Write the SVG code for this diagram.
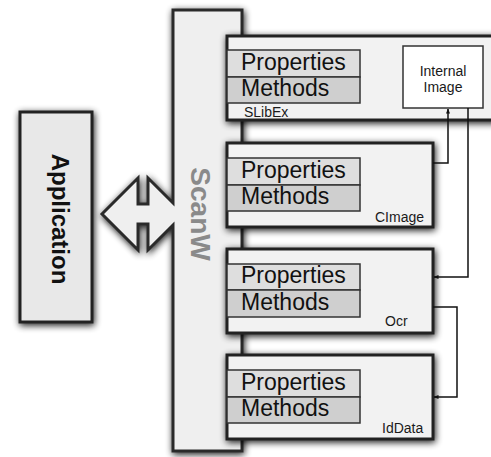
<svg xmlns="http://www.w3.org/2000/svg" width="491" height="457" viewBox="0 0 491 457">
<defs>
<filter id="sh" x="-20%" y="-20%" width="140%" height="140%">
<feGaussianBlur in="SourceAlpha" stdDeviation="3.5"/>
<feOffset dx="1" dy="2" result="b"/>
<feComponentTransfer><feFuncA type="linear" slope="0.9"/></feComponentTransfer>
<feMerge><feMergeNode/><feMergeNode in="SourceGraphic"/></feMerge>
</filter>
<marker id="ah" viewBox="0 0 10 10" refX="9" refY="5" markerWidth="5" markerHeight="5" orient="auto" markerUnits="userSpaceOnUse">
<path d="M0,1 L10,5 L0,9 Z" fill="#111"/>
</marker>
</defs>
<style>
.box{fill:#f2f2f2;stroke:#222;stroke-width:3}
.prop{fill:#dedede;stroke:#333;stroke-width:1.5}
.meth{fill:#cfcfcf;stroke:#333;stroke-width:1.5}
.big{font-family:"Liberation Sans",Arial,sans-serif;font-size:23px;fill:#111}
.lbl{font-family:"Liberation Sans",Arial,sans-serif;font-size:14px;fill:#1a1a1a}
.conn{fill:none;stroke:#111;stroke-width:1.5}
</style>
<rect width="491" height="457" fill="#fff"/>
<g id="application">
<rect x="20" y="112" width="72" height="210" fill="#e8e8e8" stroke="#222" stroke-width="3" filter="url(#sh)"/>
<text transform="translate(52,219) rotate(90)" text-anchor="middle" font-family="Liberation Sans,Arial,sans-serif" font-size="24" font-weight="bold" fill="#111">Application</text>
</g>
<g id="scanw">
<path d="M173,10 H242 V451 H173 V225 L148,250 V224 H138 V250 L102,214 L138,178 V204 H148 V178 L173,203 Z" fill="#efefef" stroke="#2a2a2a" stroke-width="3" stroke-linejoin="miter" filter="url(#sh)"/>
<text transform="translate(191,214) rotate(90)" text-anchor="middle" font-family="Liberation Sans,Arial,sans-serif" font-size="28" font-weight="bold" fill="#8a8a8a">ScanW</text>
</g>
<g id="slibex">
<rect class="box" x="227" y="36" width="280" height="84" filter="url(#sh)"/>
<rect class="prop" x="227" y="50" width="133" height="27"/>
<rect class="meth" x="227" y="77" width="133" height="26"/>
<text class="big" x="241" y="70">Properties</text>
<text class="big" x="241" y="96">Methods</text>
<text class="lbl" x="244" y="117">SLibEx</text>
<rect x="403" y="46" width="80" height="62" fill="#fff" stroke="#333" stroke-width="1.5"/>
<text class="lbl" x="443" y="76" text-anchor="middle">Internal</text>
<text class="lbl" x="443" y="92" text-anchor="middle">Image</text>
</g>
<g id="cimage">
<rect class="box" x="227" y="143" width="206" height="84" filter="url(#sh)"/>
<rect class="prop" x="227" y="158" width="133" height="27"/>
<rect class="meth" x="227" y="185" width="133" height="26"/>
<text class="big" x="241" y="178">Properties</text>
<text class="big" x="241" y="204">Methods</text>
<text class="lbl" x="375" y="222">CImage</text>
</g>
<g id="ocr">
<rect class="box" x="227" y="249" width="206" height="84" filter="url(#sh)"/>
<rect class="prop" x="227" y="264" width="133" height="26"/>
<rect class="meth" x="227" y="290" width="133" height="27"/>
<text class="big" x="241" y="283">Properties</text>
<text class="big" x="241" y="310">Methods</text>
<text class="lbl" x="385" y="326">Ocr</text>
</g>
<g id="iddata">
<rect class="box" x="227" y="355" width="206" height="84" filter="url(#sh)"/>
<rect class="prop" x="227" y="370" width="133" height="27"/>
<rect class="meth" x="227" y="397" width="133" height="26"/>
<text class="big" x="241" y="390">Properties</text>
<text class="big" x="241" y="416">Methods</text>
<text class="lbl" x="382" y="433">IdData</text>
</g>
<g id="connectors">
<path class="conn" d="M433,163 H448 V109" marker-end="url(#ah)"/>
<path class="conn" d="M468,108 V277 H434" marker-end="url(#ah)"/>
<path class="conn" d="M433,307 H457 V397 H434" marker-end="url(#ah)"/>
</g>
</svg>
